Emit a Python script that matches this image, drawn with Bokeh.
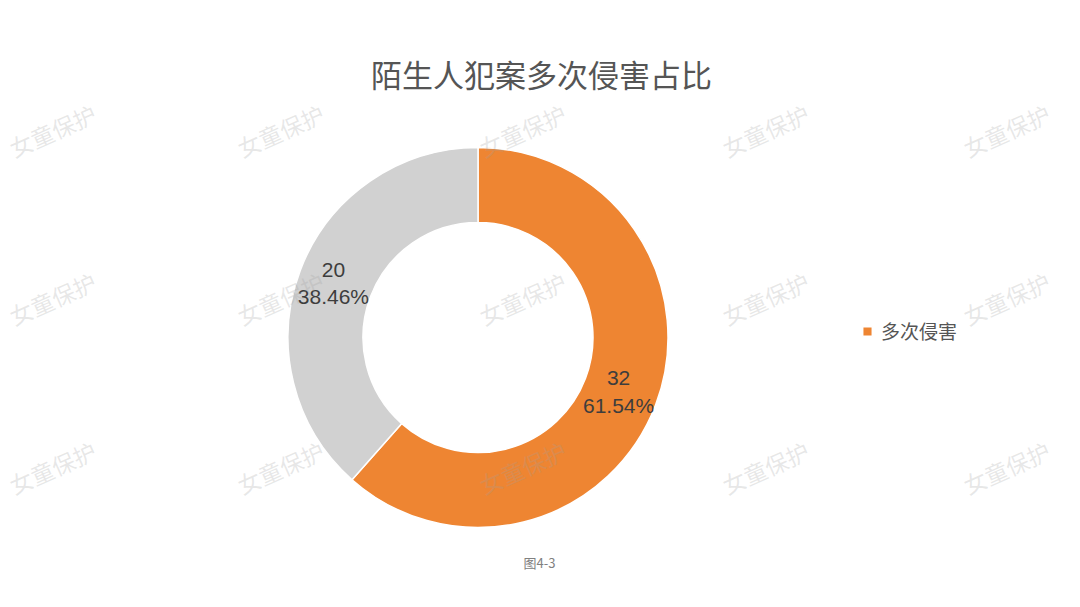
import math
from bokeh.plotting import figure
from bokeh.models import Range1d
from bokeh.core.properties import value
from bokeh.embed import file_html
from bokeh.resources import INLINE

# ---- data ----
categories = ["多次侵害", "其他"]
counts = [32, 20]
percent_labels = ["61.54%", "38.46%"]
colors = ["#EE8532", "#D1D1D1"]
legend_names = ["多次侵害", None]
title_text = "陌生人犯案多次侵害占比"
caption_text = "图4-3"
watermark_text = "女童保护"

W, H = 1064, 591
p = figure(width=W, height=H, output_backend="svg", toolbar_location=None,
           x_range=Range1d(0, W), y_range=Range1d(0, H), min_border=0)
p.axis.visible = False
p.grid.visible = False
p.outline_line_color = None
p.background_fill_color = "white"
p.border_fill_color = "white"

def Y(img_y):
    return H - img_y

def X(img_x):
    return img_x

cx, cy = X(477.5), Y(337)
r_out, r_in = 190, 115

total = sum(counts)
start = math.pi / 2
for i, c in enumerate(counts):
    frac = c / total
    end = start - frac * 2 * math.pi
    kw = {}
    if legend_names[i]:
        kw["legend_label"] = legend_names[i]
    p.annular_wedge(x=cx, y=cy, inner_radius=r_in, outer_radius=r_out,
                    start_angle=end, end_angle=start, direction="anticlock",
                    fill_color=colors[i], line_color="white", line_width=1.5, **kw)
    mid = (start + end) / 2
    rm = (r_in + r_out) / 2
    lx = cx + rm * math.cos(mid)
    ly = cy + rm * math.sin(mid)
    p.text(x=[lx - 2, lx - 2], y=[ly + 13.5, ly - 13.5], text=[str(c), percent_labels[i]],
           text_align="center", text_baseline="middle", text_font_size="21px",
           text_font=value("Liberation Sans"), text_color="#3d3d3d")
    start = end

# title
p.text(x=[X(541)], y=[Y(73)], text=[title_text], text_align="center", text_baseline="middle",
       text_font_size="31px", text_font=value("Noto Sans CJK SC"), text_color="#555555")
# caption
p.text(x=[X(539)], y=[Y(562)], text=[caption_text], text_align="center", text_baseline="middle",
       text_font_size="13px", text_font=value("Noto Sans CJK SC"), text_color="#808080")

# legend
leg = p.legend[0]
leg.location = (X(861), Y(330) - 14)
leg.border_line_color = None
leg.background_fill_alpha = 0
leg.label_text_font = "Noto Sans CJK SC"
leg.label_text_font_size = "19px"
leg.label_text_color = "#555555"
leg.glyph_width = 12
leg.glyph_height = 12
leg.label_standoff = 8
leg.padding = 0
leg.margin = 0

# watermarks
wm_x = [52, 280, 522, 765, 1006]
wm_y = [130, 298, 467]
xs, ys = [], []
for yy in wm_y:
    for xx in wm_x:
        xs.append(X(xx)); ys.append(Y(yy))
p.text(x=xs, y=ys, text=[watermark_text] * len(xs), angle=math.radians(24),
       text_align="center", text_baseline="middle", text_font_size="23px",
       text_font=value("Noto Sans CJK SC"), text_color="#a0a0a0", text_alpha=0.25)

open("out.html", "w").write(file_html(p, INLINE))
